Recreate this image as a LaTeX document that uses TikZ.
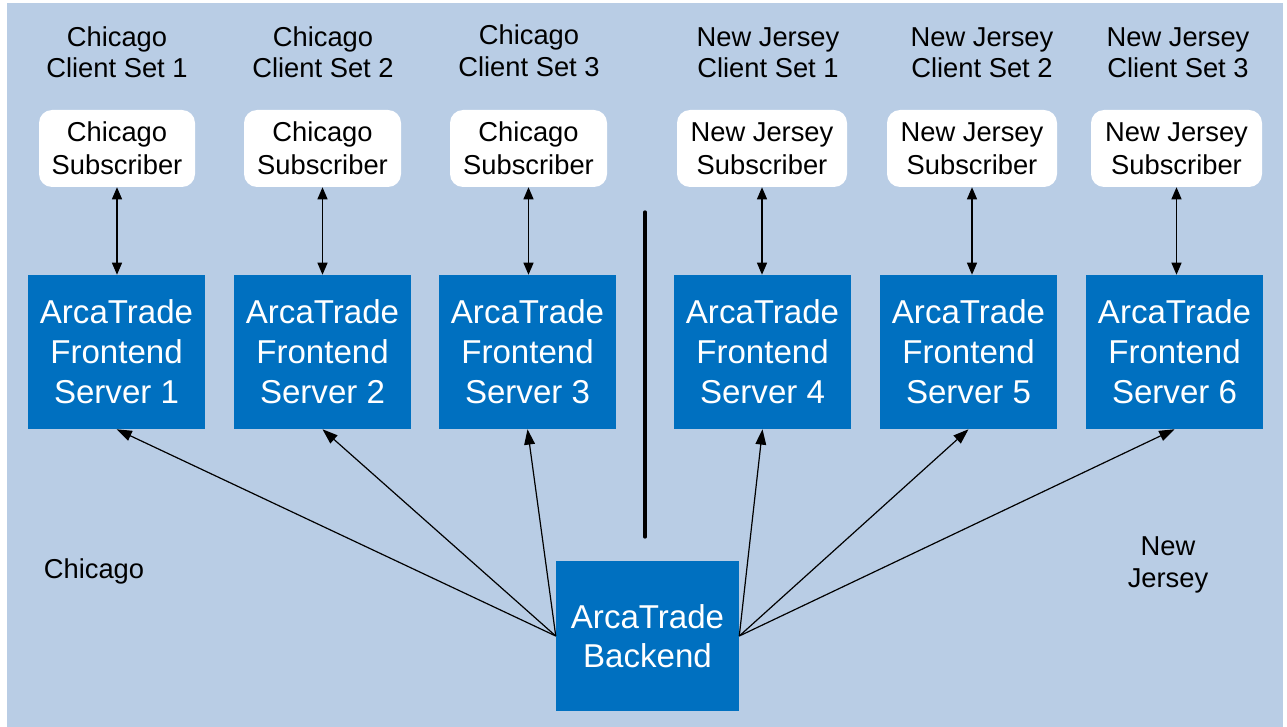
\documentclass[tikz,border=0pt]{standalone}
\usepackage{fontspec}
\setmainfont{Liberation Sans}
\usetikzlibrary{arrows.meta}
\definecolor{bgblue}{HTML}{B9CDE5}
\definecolor{boxblue}{HTML}{0070C0}
\begin{document}
\begin{tikzpicture}[x=0.75pt,y=-0.75pt,
  toplbl/.style={align=center,inner sep=0pt,font=\fontsize{20.5}{23.6}\selectfont},
  loclbl/.style={align=center,inner sep=0pt,font=\fontsize{20.5}{23.6}\selectfont},
  subbox/.style={fill=white,rounded corners=9.75pt,minimum height=77*0.75pt,align=center,inner sep=0pt,font=\fontsize{20.5}{24.5}\selectfont},
  frontbox/.style={fill=boxblue,text=white,minimum width=177*0.75pt,minimum height=154*0.75pt,align=center,inner sep=0pt,font=\fontsize{24.8}{30}\selectfont},
  backbox/.style={fill=boxblue,text=white,minimum width=183*0.75pt,minimum height=150*0.75pt,align=center,inner sep=0pt,font=\fontsize{24.8}{29}\selectfont},
  biarrow/.style={{Triangle[length=9pt,width=7.5pt]}-{Triangle[length=9pt,width=7.5pt]},line width=0.9pt},
  feedarrow/.style={-{Triangle[length=11.5pt,width=8pt]},line width=0.9pt},
  divider/.style={line width=2.5pt,line cap=round}]
\useasboundingbox (0,0) rectangle (1287,727);
\fill[bgblue] (7,3) rectangle (1283,727);

% top labels
\node[toplbl] (t1) at (117,52.5) {Chicago\\Client Set 1};
\node[toplbl] (t2) at (323,52.5) {Chicago\\Client Set 2};
\node[toplbl] (t3) at (529,50.5) {Chicago\\Client Set 3};
\node[toplbl] (t4) at (768,53) {New Jersey\\Client Set 1};
\node[toplbl] (t5) at (982,53) {New Jersey\\Client Set 2};
\node[toplbl] (t6) at (1178,53) {New Jersey\\Client Set 3};

% subscribers
\node[subbox,minimum width=156*0.75pt] (s1) at (117,148.5) {Chicago\\Subscriber};
\node[subbox,minimum width=157*0.75pt] (s2) at (322.5,148.5) {Chicago\\Subscriber};
\node[subbox,minimum width=157*0.75pt] (s3) at (528.5,148.5) {Chicago\\Subscriber};
\node[subbox,minimum width=170*0.75pt] (s4) at (762,148.5) {New Jersey\\Subscriber};
\node[subbox,minimum width=170*0.75pt] (s5) at (972,148.5) {New Jersey\\Subscriber};
\node[subbox,minimum width=171*0.75pt] (s6) at (1176.5,148.5) {New Jersey\\Subscriber};

% frontends
\node[frontbox] (f1) at (116.5,352) {ArcaTrade\\Frontend\\Server 1};
\node[frontbox] (f2) at (322.5,352) {ArcaTrade\\Frontend\\Server 2};
\node[frontbox] (f3) at (527.5,352) {ArcaTrade\\Frontend\\Server 3};
\node[frontbox] (f4) at (762.5,352) {ArcaTrade\\Frontend\\Server 4};
\node[frontbox] (f5) at (968.5,352) {ArcaTrade\\Frontend\\Server 5};
\node[frontbox] (f6) at (1174.5,352) {ArcaTrade\\Frontend\\Server 6};

% backend
\node[backbox] (b) at (647.5,636) {ArcaTrade\\Backend};

% location labels
\node[loclbl,anchor=base] (lc) at (94,578) {Chicago};
\node[loclbl] (lnj) at (1168,565) {New\\Jersey};

% divider
\coordinate (dtop) at (645,212);
\coordinate (dbot) at (645,537);
\draw[divider] (dtop) -- (dbot);

% subscriber <-> frontend
\foreach \i in {1,...,6}{
  \draw[biarrow] (s\i.south) -- (s\i.south |- f\i.north);
}

% backend -> frontends
\foreach \i in {1,2,3}{
  \draw[feedarrow] (b.west) -- (f\i.south);
}
\foreach \i in {4,5,6}{
  \draw[feedarrow] (b.east) -- (f\i.south);
}
\end{tikzpicture}
\end{document}
